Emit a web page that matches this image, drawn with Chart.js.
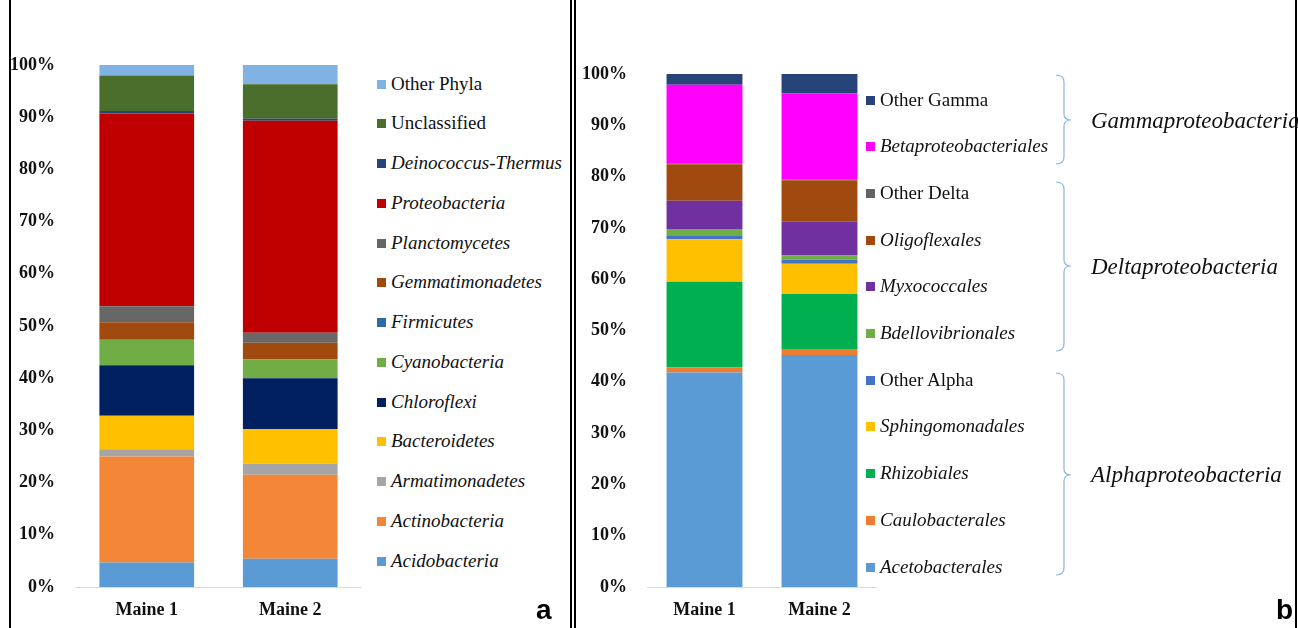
<!DOCTYPE html>
<html>
<head>
<meta charset="utf-8">
<script src="https://cdn.jsdelivr.net/npm/chart.js@4.4.1/dist/chart.umd.min.js"></script>
<style>
  body { margin: 0; background: #fff; width: 1298px; height: 628px; overflow: hidden; position: relative; font-family: "Liberation Serif", serif; }
  .wrap { position: absolute; top: 0; }
  .vline { position: absolute; top: 0; height: 628px; background: #000; }
  .leg { position: absolute; font-family: "Liberation Serif", serif; font-size: 19px; color: #111; white-space: nowrap; line-height: 20px; }
  .leg span.box { display: inline-block; width: 9px; height: 9px; margin-right: 5px; vertical-align: 1px; }
  .grp { position: absolute; font-family: "Liberation Serif", serif; font-style: italic; font-size: 23px; color: #111; white-space: nowrap; line-height: 24px; }
  .panel { position: absolute; font-family: "Liberation Sans", Arial, sans-serif; font-weight: bold; font-size: 28px; color: #000; line-height: 28px; }
</style>
</head>
<body>
<div class="vline" style="left:9px;width:2px"></div>
<div class="vline" style="left:570px;width:2px"></div>
<div class="vline" style="left:574px;width:2px"></div>
<div class="vline" style="left:1295px;width:2px"></div>

<div class="wrap" style="left:10px"><canvas id="chartA" width="352" height="628"></canvas></div>
<div class="wrap" style="left:576px"><canvas id="chartB" width="301" height="628"></canvas></div>
<div id="legendA"></div>
<div id="legendB"></div>

<svg width="1298" height="628" style="position:absolute;left:0;top:0;pointer-events:none">
  <g fill="none" stroke="#8EB4E3" stroke-width="1.2">
    <path d="M1056 75 Q1064 75 1064 82 L1064 114 Q1064 120 1071 120 Q1064 120 1064 126 L1064 157 Q1064 164 1056 164"/>
    <path d="M1056 182 Q1064 182 1064 189 L1064 260 Q1064 266 1071 266 Q1064 266 1064 272 L1064 344 Q1064 351 1056 351"/>
    <path d="M1056 373 Q1064 373 1064 380 L1064 469 Q1064 475 1071 475 Q1064 475 1064 481 L1064 568 Q1064 575 1056 575"/>
  </g>
</svg>
<div class="grp" style="left:1091px;top:109px">Gammaproteobacteria</div>
<div class="grp" style="left:1091px;top:255px">Deltaproteobacteria</div>
<div class="grp" style="left:1091px;top:463px">Alphaproteobacteria</div>

<div class="panel" style="left:536px;top:596px">a</div>
<div class="panel" style="left:1276px;top:596px">b</div>

<script>
// samples on the x axis
const samples = ["Maine 1", "Maine 2"];
const yTicks = [0, 10, 20, 30, 40, 50, 60, 70, 80, 90, 100];

// panel a - phyla, bottom of the stack first
const phyla = ["Acidobacteria", "Actinobacteria", "Armatimonadetes", "Bacteroidetes", "Chloroflexi",
  "Cyanobacteria", "Firmicutes", "Gemmatimonadetes", "Planctomycetes", "Proteobacteria",
  "Deinococcus-Thermus", "Unclassified", "Other Phyla"];
const phylaMaine1 = [4.7, 20.3, 1.4, 6.4, 9.7, 4.8, 0.1, 3.3, 3.1, 36.9, 0.5, 6.8, 2.0];
const phylaMaine2 = [5.4, 16.1, 2.1, 6.6, 9.8, 3.6, 0.1, 3.1, 1.9, 40.6, 0.4, 6.6, 3.7];
const phylaColors = ["#5B9BD5", "#F38637", "#A5A5A5", "#FFC000", "#002060",
  "#70AD47", "#2E6BA6", "#A14A10", "#676767", "#C00000",
  "#264478", "#4A6E2C", "#80B3E4"];

// panel b - proteobacteria orders, bottom of the stack first
const orders = ["Acetobacterales", "Caulobacterales", "Rhizobiales", "Sphingomonadales", "Other Alpha",
  "Bdellovibrionales", "Myxococcales", "Oligoflexales", "Other Delta", "Betaproteobacteriales", "Other Gamma"];
const ordersMaine1 = [41.8, 1.0, 16.7, 8.3, 0.6, 1.4, 5.5, 7.1, 0.1, 15.4, 2.1];
const ordersMaine2 = [45.2, 1.2, 10.7, 5.9, 0.8, 0.8, 6.6, 8.1, 0.1, 16.8, 3.8];
const ordersColors = ["#5B9BD5", "#ED7D31", "#00B050", "#FFC000", "#4472C4",
  "#70AD47", "#7030A0", "#A14A10", "#636363", "#FF00FF", "#264478"];

const upright = (name) => name.startsWith("Other") || name === "Unclassified";

function makeChart(id, names, m1, m2, colors, axisW, topPad) {
  const datasets = names.map((n, i) => ({
    label: n,
    data: [m1[i], m2[i]],
    backgroundColor: colors[i],
    borderWidth: 0,
    barPercentage: 0.66,
    categoryPercentage: 1.0,
  }));
  return new Chart(document.getElementById(id), {
    type: "bar",
    data: { labels: samples, datasets: datasets },
    options: {
      responsive: false,
      animation: false,
      devicePixelRatio: 1,
      layout: { padding: { top: topPad, right: 0, bottom: 0, left: 0 } },
      plugins: { legend: { display: false }, tooltip: { enabled: false } },
      scales: {
        x: {
          stacked: true,
          grid: { display: false, drawTicks: false },
          border: { display: true, color: "#D9D9D9", width: 1 },
          ticks: { color: "#111", padding: 13, font: { family: "Liberation Serif", size: 18, weight: "bold" } },
          afterFit: (s) => { s.height = 41; },
        },
        y: {
          stacked: true,
          min: 0,
          max: 100,
          afterBuildTicks: (s) => { s.ticks = yTicks.map((v) => ({ value: v })); },
          grid: { display: false, drawTicks: false },
          border: { display: false },
          ticks: {
            color: "#111",
            padding: 20,
            font: { family: "Liberation Serif", size: 18, weight: "bold" },
            callback: (v) => v + "%",
          },
          afterFit: (s) => { s.width = axisW; },
        },
      },
    },
  });
}

makeChart("chartA", phyla, phylaMaine1, phylaMaine2, phylaColors, 65, 65);
makeChart("chartB", orders, ordersMaine1, ordersMaine2, ordersColors, 71, 74);

// html legends, top of the stack first
function buildLegend(elId, names, colors, left, top0, step) {
  const host = document.getElementById(elId);
  for (let k = names.length - 1, row = 0; k >= 0; k--, row++) {
    const d = document.createElement("div");
    d.className = "leg";
    d.style.left = left + "px";
    d.style.top = (top0 + row * step - 10) + "px";
    d.style.fontStyle = upright(names[k]) ? "normal" : "italic";
    d.innerHTML = '<span class="box" style="background:' + colors[k] + '"></span>' + names[k];
    host.appendChild(d);
  }
}
buildLegend("legendA", phyla, phylaColors, 377, 83.5, 39.75);
buildLegend("legendB", orders, ordersColors, 866, 99.5, 46.7);
</script>
</body>
</html>
